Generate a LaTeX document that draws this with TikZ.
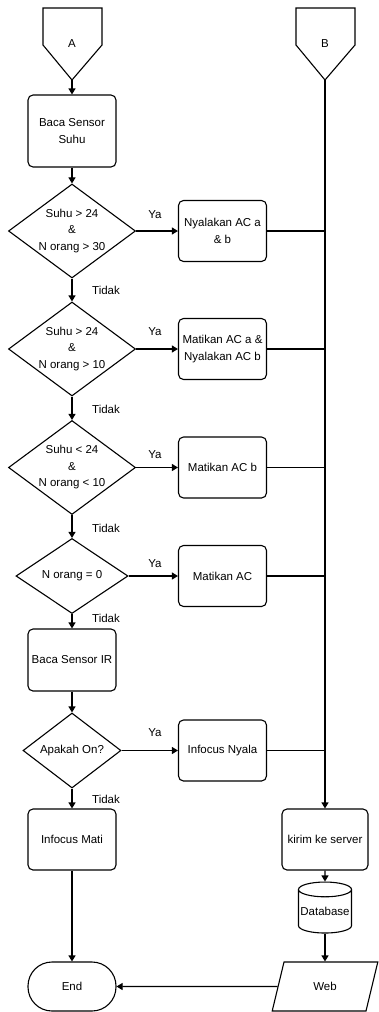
\documentclass[tikz,border=0pt]{standalone}
\usepackage{fontspec}
\setmainfont{Liberation Sans}
\usetikzlibrary{shapes.geometric,arrows.meta,positioning}

\begin{document}
\begin{tikzpicture}[
    x=1pt, y=-1pt,
    line width=1.1pt,
    font=\fontsize{11.5}{16.5}\selectfont,
    box/.style={draw,rounded corners=5pt,minimum width=88pt,minimum height=61pt,align=center,inner sep=1pt},
    dec/.style={diamond,draw,inner sep=0pt,align=center,minimum width=127pt,minimum height=94pt,aspect=1.35},
    db/.style={cylinder,draw,shape border rotate=90,aspect=0.3,minimum width=53pt,minimum height=51pt,inner sep=0pt},
    io/.style={trapezium,draw,trapezium stretches=true,trapezium left angle=74,trapezium right angle=106,minimum width=106pt,minimum height=49pt},
    term/.style={draw,rounded corners=24pt,minimum width=88pt,minimum height=49pt},
    arrow/.style={-{Triangle[length=6pt,width=7pt]}},
    lbl/.style={inner sep=0pt}
  ]
    \useasboundingbox (0,0) rectangle (379,1012);

    % Off-page connectors
    \coordinate (Atip) at (72,80);
    \coordinate (Btip) at (325,80);
    \draw (43,8) -- (102,8) -- (102,45) -- (Atip) -- (43,45) -- cycle;
    \draw (296,8) -- (355,8) -- (355,45) -- (Btip) -- (296,45) -- cycle;
    \node (A) at (72,44) {A};
    \node (B) at (325,44) {B};

    % Decisions (left column)
    \node[box,minimum height=72pt] (suhu) at (72,131) {Baca Sensor\\Suhu};
    \node[dec] (c1) at (72,231) {Suhu > 24\\\&\\N orang > 30};
    \node[dec] (c2) at (72,349) {Suhu > 24\\\&\\N orang > 10};
    \node[dec] (c3) at (72,467.5) {Suhu < 24\\\&\\N orang < 10};
    \node[dec,minimum width=112pt,minimum height=75pt,aspect=1.5] (c4) at (72,576) {N orang = 0};
    \node[box,minimum height=62pt] (ir) at (72,660) {Baca Sensor IR};
    \node[dec,minimum width=98pt,minimum height=75pt,aspect=1.3] (c5) at (72,750.5) {Apakah On?};
    \node[box] (mati) at (72,839.5) {Infocus Mati};
    \node[term] (end) at (72,986.5) {End};

    % Actions
    \node[box] (act1) at (222.5,231) {Nyalakan AC a\\\& b};
    \node[box] (act2) at (222.5,349) {Matikan AC a \&\\Nyalakan AC b};
    \node[box] (act3) at (222.5,467.5) {Matikan AC b};
    \node[box] (act4) at (222.5,576) {Matikan AC};
    \node[box] (act5) at (222.5,750.5) {Infocus Nyala};

    % Server side
    \node[box,minimum width=86pt] (kirim) at (325,839.5) {kirim ke server};
    \node[db] (data) at (325,911.5) {Database};
    \node[io] (web) at (325,986.5) {Web};

    % Labels
    \foreach \y in {215,332,455,564,733}
      \node[lbl] at (155,\y) {Ya};
    \foreach \y in {290,409,528,618,799}
      \node[lbl] at (106,\y) {Tidak};

    % Arrows
    \draw[arrow] (Atip) -- (suhu);
    \draw[arrow] (suhu) -- (c1);
    \draw[arrow] (c1) -- (c2);
    \draw[arrow] (c2) -- (c3);
    \draw[arrow] (c3) -- (c4);
    \draw[arrow] (c4) -- (ir);
    \draw[arrow] (ir) -- (c5);
    \draw[arrow] (c5) -- (mati);
    \draw[arrow] (mati) -- (end);
    \foreach \i in {1,...,5} {
      \draw[arrow] (c\i.east) -- (act\i.west);
      \draw (act\i.east) -- (act\i.east -| Btip);
    }
    \draw[arrow] (Btip) -- (kirim);
    \draw[arrow] (kirim) -- (data);
    \draw[arrow] (data) -- (web);
    \draw[arrow] (web) -- (end);
\end{tikzpicture}
\end{document}
